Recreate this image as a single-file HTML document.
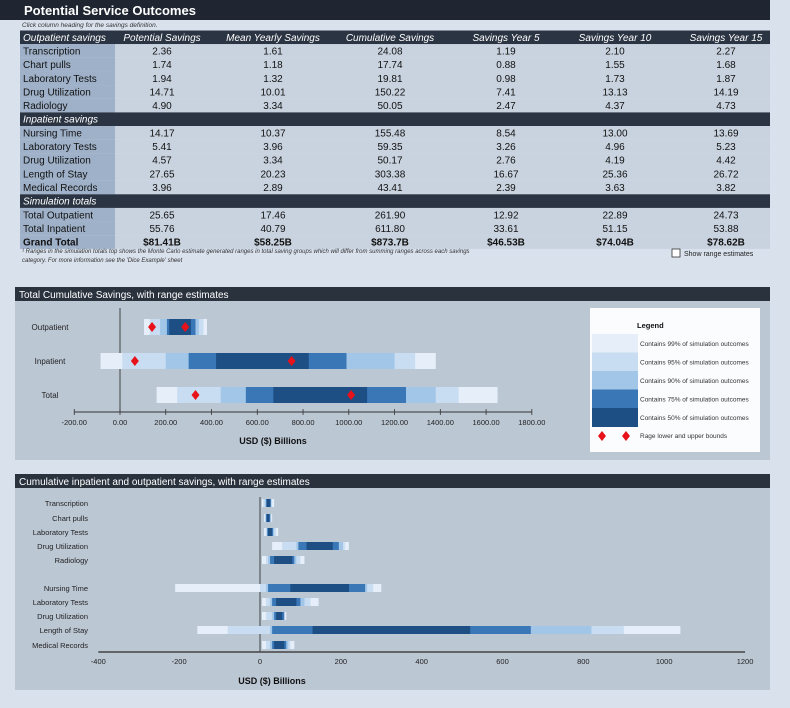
<!DOCTYPE html>
<html><head><meta charset="utf-8"><style>
html,body{margin:0;padding:0;background:#d9e1ec;}
svg{display:block;font-family:"Liberation Sans",sans-serif;}
</style></head><body>
<svg id="s" width="790" height="708" xmlns="http://www.w3.org/2000/svg">
<rect x="0" y="0" width="790" height="708" fill="#d9e1ec"/>
<rect x="0" y="0" width="770" height="20" fill="#1f2631"/>
<text x="24" y="15" font-size="13" font-weight="bold" fill="#fff">Potential Service Outcomes</text>
<text x="22" y="27" font-size="6.5" font-style="italic" fill="#333">Click column heading for the savings definition.</text>
<g id="tbl"></g>
<text x="22" y="253" font-size="6" font-style="italic" fill="#333">¹ Ranges in the simulation totals top shows the Monte Carlo estimate generated ranges in total saving groups which will differ from summing ranges across each savings</text>
<text x="22" y="262" font-size="6" font-style="italic" fill="#333">category. For more information see the 'Dice Example' sheet</text>
<rect x="672" y="249" width="8" height="8" fill="#fff" stroke="#333" stroke-width="0.8"/>
<text x="684" y="256" font-size="7" fill="#222">Show range estimates</text>
<rect x="15" y="287" width="755" height="14" fill="#2a323e"/>
<text x="19" y="298" font-size="10" fill="#fff">Total Cumulative Savings, with range estimates</text>
<rect x="15" y="301" width="755" height="159" fill="#bcc7d4"/>
<g id="c1"></g>
<rect x="15" y="474" width="755" height="14" fill="#2a323e"/>
<text x="19" y="485" font-size="10" fill="#fff">Cumulative inpatient and outpatient savings, with range estimates</text>
<rect x="15" y="488" width="755" height="202" fill="#bcc7d4"/>
<g id="c2"></g>
</svg>
<script>
const NS="http://www.w3.org/2000/svg";
function mk(p,t,a,txt){const e=document.createElementNS(NS,t);for(const k in a)e.setAttribute(k,a[k]);if(txt!==undefined)e.textContent=txt;p.appendChild(e);return e;}

// ---- table data ----
const colHeads=["Potential Savings","Mean Yearly Savings","Cumulative Savings","Savings Year 5","Savings Year 10","Savings Year 15"];
const sections=["Outpatient savings","Inpatient savings","Simulation totals"];
const outLabels=["Transcription","Chart pulls","Laboratory Tests","Drug Utilization","Radiology"];
const outVals=[["2.36","1.61","24.08","1.19","2.10","2.27"],["1.74","1.18","17.74","0.88","1.55","1.68"],["1.94","1.32","19.81","0.98","1.73","1.87"],["14.71","10.01","150.22","7.41","13.13","14.19"],["4.90","3.34","50.05","2.47","4.37","4.73"]];
const inLabels=["Nursing Time","Laboratory Tests","Drug Utilization","Length of Stay","Medical Records"];
const inVals=[["14.17","10.37","155.48","8.54","13.00","13.69"],["5.41","3.96","59.35","3.26","4.96","5.23"],["4.57","3.34","50.17","2.76","4.19","4.42"],["27.65","20.23","303.38","16.67","25.36","26.72"],["3.96","2.89","43.41","2.39","3.63","3.82"]];
const totLabels=["Total Outpatient","Total Inpatient","Grand Total"];
const totVals=[["25.65","17.46","261.90","12.92","22.89","24.73"],["55.76","40.79","611.80","33.61","51.15","53.88"],["$81.41B","$58.25B","$873.7B","$46.53B","$74.04B","$78.62B"]];
const colX=[162,273,390,506,615,726];
const tbl=document.getElementById('tbl');
const RH=13.65;
let y=30.5;
function headRow(title,withCols,idx){
  const r=mk(tbl,'rect',{x:20,y:y,width:750,height:RH,fill:'#2b3442'});
  
  
  const t=mk(tbl,'text',{x:23,y:y+10.3,'font-size':10,'font-style':'italic',fill:'#fff'},title);
  
  
  if(withCols){colHeads.forEach((h,i)=>{const c=mk(tbl,'text',{x:colX[i],y:y+10.3,'font-size':10,'font-style':'italic',fill:'#fff','text-anchor':'middle',cursor:'pointer'},h);
    
    });}
  y+=RH;
}
function dataRows(labels,vals,bold){
  labels.forEach((l,i)=>{
    const a=mk(tbl,'rect',{x:20,y:y,width:95,height:RH,fill:'#9fb1c8'});
    
    
    mk(tbl,'rect',{x:115,y:y,width:655,height:RH,fill:'#c9d3e0'});
    const b=bold&&i===labels.length-1;
    const t=mk(tbl,'text',{x:23,y:y+10.3,'font-size':10,'font-weight':b?'bold':'normal',fill:'#111'},l);
    
    
    vals[i].forEach((v,j)=>{const c=mk(tbl,'text',{x:colX[j],y:y+10.3,'font-size':10,'font-weight':b?'bold':'normal',fill:'#111','text-anchor':'middle'},v);
      
      });
    y+=RH;
  });
}
headRow(sections[0],true,0);dataRows(outLabels,outVals,false);
headRow(sections[1],false,1);dataRows(inLabels,inVals,false);
headRow(sections[2],false,2);dataRows(totLabels,totVals,true);

// ---- chart 1 data ----
const c1Cats=["Outpatient","Inpatient","Total"];
const c1Band99=[[105,380],[-85,1380],[160,1650]];
const c1Band95=[[130,365],[10,1290],[250,1480]];
const c1Band90=[[175,345],[200,1200],[440,1380]];
const c1Band75=[[205,330],[300,990],[550,1250]];
const c1Band50=[[215,310],[420,825],[670,1080]];
const c1Lower=[140,65,330];
const c1Upper=[285,750,1010];
const c1Ticks=[-200,0,200,400,600,800,1000,1200,1400,1600,1800];
const bandColors=["#e6eff9","#c8ddf1","#a2c6e7","#3a77b7","#1d4e84"];
const legendTexts=["Contains 99% of simulation outcomes","Contains 95% of simulation outcomes","Contains 90% of simulation outcomes","Contains 75% of simulation outcomes","Contains 50% of simulation outcomes"];

const g1=document.getElementById('c1');
const x1=v=>120+v*0.2288;
const y1=i=>327+i*34;
mk(g1,'line',{x1:120,y1:308,x2:120,y2:412,stroke:'#222','stroke-width':0.8});
mk(g1,'line',{x1:x1(-200),y1:412,x2:x1(1800),y2:412,stroke:'#333','stroke-width':1});
c1Ticks.forEach(t=>{mk(g1,'line',{x1:x1(t),y1:409,x2:x1(t),y2:415,stroke:'#333','stroke-width':0.8});
  const e=mk(g1,'text',{x:x1(t),y:425,'font-size':7.5,'text-anchor':'middle',fill:'#222'},t.toFixed(2));
  
  });
const xt=mk(g1,'text',{x:273,y:444,'font-size':9,'font-weight':'bold','text-anchor':'middle',fill:'#111'},'USD ($) Billions');


const c1Bands=[c1Band99,c1Band95,c1Band90,c1Band75,c1Band50];
function diamond(g,cx,cy,r){const d=mk(g,'polygon',{points:`${cx},${cy-r} ${cx+r*0.8},${cy} ${cx},${cy+r} ${cx-r*0.8},${cy}`,fill:'#e8121a'});return d;}
c1Cats.forEach((c,i)=>{
  const cy=y1(i);
  const l=mk(g1,'text',{x:50,y:cy+3,'font-size':8,'text-anchor':'middle',fill:'#222'},c);
  
  
  c1Bands.forEach((b,k)=>{const r=mk(g1,'rect',{x:x1(b[i][0]),y:cy-8,width:x1(b[i][1])-x1(b[i][0]),height:16,fill:bandColors[k]});
    
    });
  const d1=diamond(g1,x1(c1Lower[i]),cy,5);
  
  
  const d2=diamond(g1,x1(c1Upper[i]),cy,5);
  
  
});
// legend
const lg=mk(g1,'g',{});


mk(lg,'rect',{x:590,y:308,width:170,height:144,fill:'#fbfcfe'});
mk(lg,'text',{x:637,y:328,'font-size':7.5,'font-weight':'bold',fill:'#111'},'Legend');
legendTexts.forEach((t,k)=>{
  const ty=344+k*18.5;
  mk(lg,'rect',{x:592,y:ty-10,width:46,height:19,fill:bandColors[k]});
  const e=mk(lg,'text',{x:640,y:ty+2,'font-size':6.5,fill:'#333'},t);
  
  
});
diamond(lg,602,436,5);diamond(lg,626,436,5);
mk(lg,'text',{x:640,y:438,'font-size':6.5,fill:'#333'},'Rage lower and upper bounds');

// ---- chart 2 data ----
const c2Cats=["Transcription","Chart pulls","Laboratory Tests","Drug Utilization","Radiology","Nursing Time","Laboratory Tests","Drug Utilization","Length of Stay","Medical Records"];
const c2Band99=[[5,35],[10,30],[10,45],[30,220],[5,110],[-210,300],[5,145],[5,65],[-155,1040],[5,85]];
const c2Band95=[[8,30],[12,28],[14,40],[55,210],[15,100],[0,280],[15,125],[15,60],[-80,900],[15,75]];
const c2Band90=[[12,28],[14,27],[17,35],[90,205],[20,90],[15,265],[25,110],[30,60],[25,820],[25,70]];
const c2Band75=[[15,27],[15,25],[18,32],[95,195],[25,85],[20,260],[30,100],[35,60],[30,670],[30,65]];
const c2Band50=[[17,25],[17,23],[20,30],[115,180],[35,80],[75,220],[40,90],[40,55],[130,520],[35,60]];
const c2Ticks=[-400,-200,0,200,400,600,800,1000,1200];
const c2RowY=[503,518,532,546,560,588,602,616,630,645];

const g2=document.getElementById('c2');
const x2=v=>260+v*0.4042;
mk(g2,'line',{x1:260,y1:497,x2:260,y2:652,stroke:'#222','stroke-width':0.8});
mk(g2,'line',{x1:x2(-400),y1:652,x2:x2(1200),y2:652,stroke:'#444','stroke-width':1.5});
c2Ticks.forEach(t=>{const e=mk(g2,'text',{x:x2(t),y:664,'font-size':7.5,'text-anchor':'middle',fill:'#222'},String(t));
  
  });
const xt2=mk(g2,'text',{x:272,y:684,'font-size':9,'font-weight':'bold','text-anchor':'middle',fill:'#111'},'USD ($) Billions');


const c2Bands=[c2Band99,c2Band95,c2Band90,c2Band75,c2Band50];
c2Cats.forEach((c,i)=>{
  const cy=c2RowY[i];
  const l=mk(g2,'text',{x:88,y:cy+3,'font-size':7.5,'text-anchor':'end',fill:'#222'},c);
  
  
  c2Bands.forEach((b,k)=>{const r=mk(g2,'rect',{x:x2(b[i][0]),y:cy-4,width:x2(b[i][1])-x2(b[i][0]),height:8,fill:bandColors[k]});
    
    });
});
</script>
</body></html>
